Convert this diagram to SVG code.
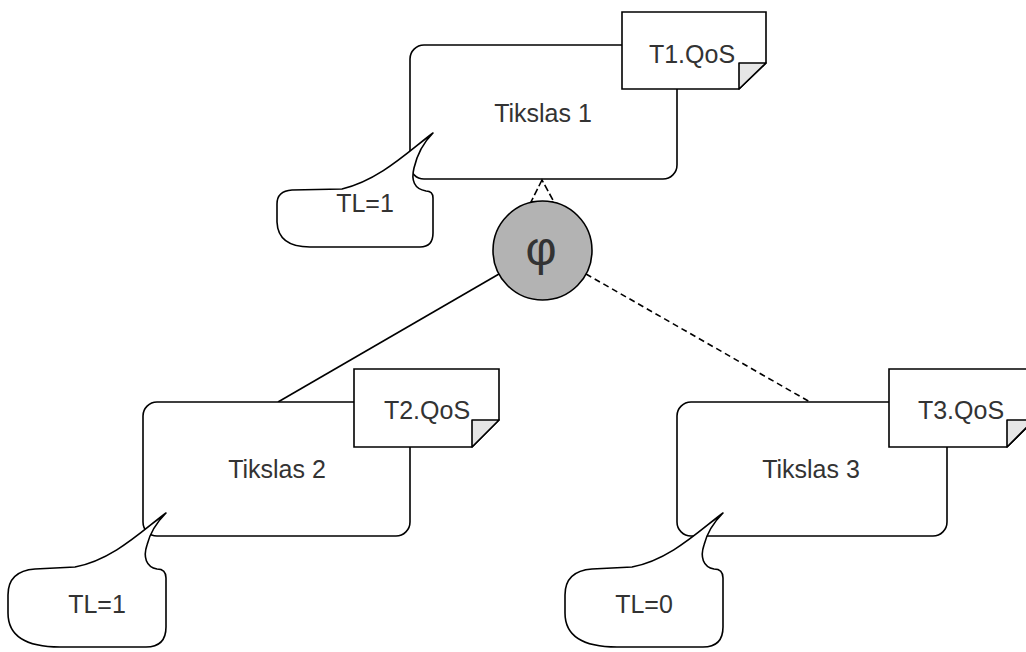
<svg xmlns="http://www.w3.org/2000/svg" width="1026" height="652" viewBox="0 0 1026 652">
<style>
.box{fill:#fff;stroke:#000;stroke-width:1.6}
.note{fill:#fff;stroke:#000;stroke-width:1.6}
.fold{fill:#e6e6e6;stroke:#000;stroke-width:1.6;stroke-linejoin:round}
.call{fill:#fff;stroke:#000;stroke-width:1.6;stroke-linejoin:round}
.t{font-family:"Liberation Sans",Arial,sans-serif;font-size:25px;fill:#333;text-anchor:middle}
.edge{fill:none;stroke:#000;stroke-width:1.6}
.dash{stroke-dasharray:6 4}
</style>
<rect width="1026" height="652" fill="#fff"/>
<g id="connectors">
<line class="edge" x1="499" y1="274" x2="278" y2="402"/>
<line class="edge dash" x1="586" y1="274" x2="810" y2="402"/>
</g>
<g id="tikslas1">
<rect class="box" x="410" y="45" width="267" height="134" rx="14"/>
<text class="t" x="543" y="122">Tikslas 1</text>
</g>
<g id="tikslas2">
<rect class="box" x="143" y="402" width="267" height="134" rx="14"/>
<text class="t" x="277" y="478">Tikslas 2</text>
</g>
<g id="tikslas3">
<rect class="box" x="677" y="402" width="270" height="134" rx="14"/>
<text class="t" x="811" y="478">Tikslas 3</text>
</g>
<g id="qos1">
<path class="note" d="M622,12 H766 V63 L739,89 H622 Z"/>
<path class="fold" d="M739,89 V63 H766 Z"/>
<text class="t" x="692" y="63">T1.QoS</text>
</g>
<g id="qos2">
<path class="note" d="M354,369 H499 V420 L472,447 H354 Z"/>
<path class="fold" d="M472,447 V420 H499 Z"/>
<text class="t" x="427" y="419">T2.QoS</text>
</g>
<g id="qos3">
<path class="note" d="M889,369 H1034 V420 L1007,447 H889 Z"/>
<path class="fold" d="M1007,447 V420 H1034 Z"/>
<text class="t" x="961" y="419">T3.QoS</text>
</g>
<g id="callout1">
<path class="call" d="M433,133 C410,150 380,180 342,189 L292,190 Q277,191 277,204 L277,222 Q278,247 310,247 L420,247 Q433,247 433,233 L433,198 Q433,191 426,191 C414,189 411,180 414,168 C417,155 424,142 433,133 Z"/>
<text class="t" x="365" y="212">TL=1</text>
</g>
<g id="callout2">
<path class="call" d="M166,513 C143,530 113,560 75,567 L35,569 Q8,571 8,595 L8,613 Q8,647 60,647 L146,647 Q166,647 166,627 L166,578 Q166,569 157,569 C146,567 143,557 147,545 C150,533 157,522 166,513 Z"/>
<text class="t" x="97" y="613">TL=1</text>
</g>
<g id="callout3">
<path class="call" d="M723,513 C700,530 670,560 632,567 L592,569 Q565,571 565,595 L565,613 Q565,647 617,647 L703,647 Q723,647 723,627 L723,578 Q723,569 714,569 C703,567 700,557 704,545 C707,533 714,522 723,513 Z"/>
<text class="t" x="644" y="613">TL=0</text>
</g>
<g id="phi">
<polygon points="542,180 531,202 554,202" fill="#fff" stroke="#000" stroke-width="1.6" stroke-dasharray="7 3"/>
<circle cx="542.5" cy="250.5" r="49.5" fill="#b3b3b3" stroke="#000" stroke-width="1.6"/>
<text class="t" x="541" y="265" style="font-size:48px">φ</text>
</g>
</svg>
